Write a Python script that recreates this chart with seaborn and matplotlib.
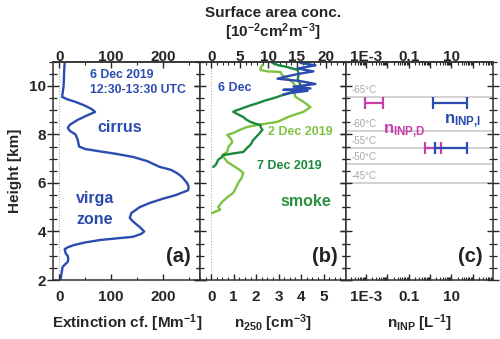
import numpy as np
import pandas as pd
import matplotlib
matplotlib.use("Agg")
import matplotlib.pyplot as plt
import matplotlib.ticker as mticker
import seaborn as sns

W, H = 500, 339

# ---- data ----
# (a) extinction coefficient profile, 6 Dec 2019
ext_height = [11.0, 10.6, 10.0, 9.7, 9.55, 9.45, 9.35, 9.2, 9.05, 8.93, 8.8, 8.6, 8.4,
              8.27, 8.15, 8.0, 7.8, 7.5, 7.4, 7.3, 7.2, 7.07, 6.9, 6.67, 6.54, 6.4,
              6.25, 6.0, 5.85, 5.7, 5.5, 5.35, 5.17, 5.0, 4.76, 4.56, 4.4, 4.19, 4.0,
              3.9, 3.78, 3.65, 3.55, 3.44, 3.35, 3.27, 3.1, 2.99, 2.85, 2.75, 2.54,
              2.28, 2.0]
ext_value = [10, 9, 8, 6, 5, 15, 30, 48, 62, 69, 55, 35, 20,
             16, 20, 31, 35, 38, 50, 79, 110, 143, 170, 193, 216, 228,
             237, 247, 250, 249, 225, 200, 174, 155, 139, 136, 143, 155, 164,
             158, 142, 79, 50, 28, 16, 10, 12, 16, 17, 16, 6,
             4, 2]

# (b) n250 profiles
dec2_height = [10.87, 10.75, 10.66, 10.6, 10.58, 10.45, 10.37, 10.17, 10.05, 9.9, 9.7,
               9.55, 9.35, 9.13, 8.93, 8.75, 8.52, 8.39, 8.31, 8.2, 8.06, 7.98, 7.85,
               7.69, 7.48, 7.28, 7.15, 6.87, 6.7, 6.55, 6.41, 6.2, 6.0, 5.8, 5.59,
               5.4, 5.22, 5.01, 4.9, 4.76]
dec2_n250 = [2.28, 2.2, 2.19, 2.5, 3.08, 3.15, 3.3, 3.6, 3.7, 3.84, 3.7,
             3.75, 4.1, 4.42, 4.1, 3.5, 2.95, 2.05, 1.6, 1.3, 0.98, 0.71, 0.85,
             0.94, 0.76, 0.71, 0.49, 0.71, 1.0, 1.25, 1.43, 1.35, 1.2, 1.1, 0.98,
             0.7, 0.49, 0.31, 0.4, 0.04]

dec7_height = [10.95, 10.85, 10.8, 10.66, 10.5, 10.3, 10.1, 9.92, 9.8, 9.75, 9.68, 9.6,
               9.55, 9.45, 9.4, 9.3, 9.2, 9.12, 9.05, 8.97, 8.93, 8.85, 8.8, 8.72,
               8.62, 8.52, 8.45, 8.39, 8.3, 8.19, 8.05, 7.95, 7.85, 7.75, 7.65, 7.57,
               7.45, 7.35, 7.28, 7.22, 7.15, 7.05, 6.95, 6.87, 6.75, 6.66]
dec7_n250 = [2.72, 3.0, 3.3, 3.84, 3.9, 3.85, 3.95, 3.97, 3.7, 3.6, 3.4, 3.1,
             2.95, 2.6, 2.4, 2.1, 1.75, 1.5, 1.3, 1.05, 0.98, 1.15, 1.25, 1.43,
             1.55, 1.74, 1.95, 2.19, 2.2, 2.28, 2.15, 2.05, 1.95, 1.85, 1.8, 1.74,
             1.6, 1.5, 1.43, 1.0, 0.54, 0.45, 0.3, 0.27, 0.2, 0.09]

dec6_height = [10.95, 10.85, 10.72, 10.6, 10.5, 10.4, 10.3, 10.2, 10.08, 9.97, 9.9,
               9.84, 9.8, 9.71, 9.65]
dec6_n250 = [3.97, 4.64, 3.84, 4.55, 3.9, 3.39, 2.95, 3.97, 4.64, 3.66, 4.42,
             3.21, 4.29, 3.53, 3.2]

SA_PER_N250 = 3.93  # top axis scale, surface area vs n250

# (c) INP concentration ranges
temp_heights = [9.55, 8.14, 7.44, 6.78, 6.0]
temp_labels = ["-65°C", "-60°C", "-55°C", "-50°C", "-45°C"]
inp_height = [9.30, 7.46]
inp_d_low = [8.9e-4, 0.6]
inp_d_high = [6.3e-3, 3.4]
inp_i_low = [1.4, 1.8]
inp_i_high = [56, 56]

BLUE = "#2b4bb0"
DGREEN = "#1a8a3a"
LGREEN = "#7dc242"
MAGENTA = "#c63fa8"
SMOKE = "#2b9040"
GRAY_LINE = "#cfcfcf"
GRAY_TXT = "#a8a8a8"

sns.set_theme(style="ticks")
plt.rcParams["font.family"] = ["Liberation Sans", "DejaVu Sans"]
plt.rcParams["font.weight"] = "bold"
plt.rcParams["axes.labelweight"] = "bold"
plt.rcParams["mathtext.fontset"] = "custom"
plt.rcParams["mathtext.rm"] = "Liberation Sans:bold"
plt.rcParams["mathtext.it"] = "Liberation Sans:bold"
plt.rcParams["mathtext.bf"] = "Liberation Sans:bold"
plt.rcParams["axes.linewidth"] = 1.1
plt.rcParams["axes.edgecolor"] = "#333333"

fig = plt.figure(figsize=(W / 100, H / 100), dpi=100)


def px_axes(x0, x1, y0=61.7, y1=280):
    return fig.add_axes([x0 / W, 1 - y1 / H, (x1 - x0) / W, (y1 - y0) / H])


ax_a = px_axes(53.3, 200)
ax_b = px_axes(200, 346)
ax_c = px_axes(346, 492.7)

df_ext = pd.DataFrame({"height": ext_height, "ext": ext_value})
sns.lineplot(data=df_ext, x="ext", y="height", sort=False, estimator=None,
             color=BLUE, lw=1.7, ax=ax_a)
ax_a.axvline(0, color="#b0b0b0", ls=":", lw=0.8, zorder=0)
ax_a.set_xlim(-12, 272)

for hh, nn, col in [(dec2_height, dec2_n250, LGREEN),
                    (dec7_height, dec7_n250, DGREEN),
                    (dec6_height, dec6_n250, BLUE)]:
    d = pd.DataFrame({"height": hh, "n250": nn})
    sns.lineplot(data=d, x="n250", y="height", sort=False, estimator=None,
                 color=col, lw=1.7, ax=ax_b)
ax_b.axvline(0, color="#b0b0b0", ls=":", lw=0.8, zorder=0)
ax_b.set_xlim(-0.5, 6.0)

ax_c.set_xscale("log")
ax_c.set_xlim(1.15e-4, 870)
for th in temp_heights:
    ax_c.axhline(th, color=GRAY_LINE, lw=1.3, zorder=0)
for i in range(len(inp_height)):
    for lo, hi, col in [(inp_d_low[i], inp_d_high[i], MAGENTA),
                        (inp_i_low[i], inp_i_high[i], BLUE)]:
        c = np.sqrt(lo * hi)
        ax_c.errorbar([c], [inp_height[i]], xerr=[[c - lo], [hi - c]], fmt="none",
                      ecolor=col, elinewidth=1.6, capsize=4.5, capthick=1.6)

for ax in (ax_a, ax_b, ax_c):
    ax.set_ylim(2, 11)
    ax.set_xlabel("")
    ax.set_ylabel("")
    ax.yaxis.set_major_locator(mticker.MultipleLocator(2))
    ax.yaxis.set_minor_locator(mticker.MultipleLocator(0.5))
    ax.tick_params(axis="y", which="major", direction="inout", length=8, width=1,
                   left=True, right=True, labelleft=False, pad=1, labelsize=11)
    ax.tick_params(axis="y", which="minor", direction="inout", length=6, width=0.9,
                   left=True, right=True)
    ax.tick_params(axis="x", which="major", direction="in", length=4, width=1,
                   labelsize=11, pad=7, top=False)
    ax.tick_params(axis="x", which="minor", direction="in", length=2.5, width=0.8,
                   top=False)
    for s in ax.spines.values():
        s.set_visible(True)
ax_a.tick_params(axis="y", which="major", labelleft=True)
ax_a.set_ylabel("Height [km]", fontsize=11, labelpad=5)


def top_axis(ax, functions, major, minor, formatter=None):
    sec = ax.secondary_xaxis("top", functions=functions)
    sec.xaxis.set_major_locator(major)
    sec.xaxis.set_minor_locator(minor)
    if formatter is not None:
        sec.xaxis.set_major_formatter(formatter)
        sec.xaxis.set_minor_formatter(mticker.NullFormatter())
    sec.tick_params(axis="x", which="major", direction="in", length=4, width=1,
                    labelsize=11, pad=-1.5)
    sec.tick_params(axis="x", which="minor", direction="in", length=2.5, width=0.8)
    return sec


ident = (lambda x: x, lambda x: x)

# panel (a)
ax_a.xaxis.set_major_locator(mticker.FixedLocator([0, 100, 200]))
ax_a.xaxis.set_minor_locator(mticker.MultipleLocator(50))
ax_a.set_xlabel("Extinction cf. [Mm$^{-1}$]", fontsize=11, labelpad=6)
top_axis(ax_a, ident, mticker.FixedLocator([0, 100, 200]), mticker.MultipleLocator(50))

# panel (b)
ax_b.xaxis.set_major_locator(mticker.FixedLocator([0, 1, 2, 3, 4, 5]))
ax_b.xaxis.set_minor_locator(mticker.MultipleLocator(0.25))
ax_b.set_xlabel("n$_{250}$ [cm$^{-3}$]", fontsize=11, labelpad=6)
sec = top_axis(ax_b, (lambda x: x * SA_PER_N250, lambda x: x / SA_PER_N250),
               mticker.FixedLocator([0, 5, 10, 15, 20]), mticker.MultipleLocator(1))

# panel (c)
c_labels = {-3: "1E-3", -1: "0.1", 1: "10"}
c_fmt = mticker.FuncFormatter(lambda v, p: c_labels.get(int(round(np.log10(v))), ""))
ax_c.xaxis.set_major_locator(mticker.LogLocator(base=10, numticks=20))
ax_c.xaxis.set_minor_locator(mticker.LogLocator(base=10, subs=np.arange(2, 10), numticks=20))
ax_c.xaxis.set_minor_formatter(mticker.NullFormatter())
ax_c.xaxis.set_major_formatter(c_fmt)
ax_c.set_xlabel("n$_{INP}$ [L$^{-1}$]", fontsize=11, labelpad=6)
sec_c = top_axis(ax_c, ident, mticker.LogLocator(base=10, numticks=20),
                 mticker.LogLocator(base=10, subs=np.arange(2, 10), numticks=20),
                 formatter=c_fmt)
sec_c.set_xscale("log")
sec_c.xaxis.set_major_locator(mticker.LogLocator(base=10, numticks=20))
sec_c.xaxis.set_minor_locator(mticker.LogLocator(base=10, subs=np.arange(2, 10), numticks=20))
sec_c.xaxis.set_major_formatter(c_fmt)
sec_c.xaxis.set_minor_formatter(mticker.NullFormatter())


def ftext(px, py, s, ha="left", **kw):
    fig.text(px / W, 1 - py / H, s, va="center", ha=ha, **kw)


# top label of panel (b), two lines
ftext(273, 13, "Surface area conc.", ha="center", fontsize=11)
ftext(273, 32, "[10$^{-2}$cm$^{2}$m$^{-3}$]", ha="center", fontsize=11)

ftext(90, 75, "6 Dec 2019", color=BLUE, fontsize=8.8)
ftext(90, 90, "12:30-13:30 UTC", color=BLUE, fontsize=8.8)
ftext(97, 128, "cirrus", color=BLUE, fontsize=11.5)
ftext(76, 199, "virga", color=BLUE, fontsize=11.5)
ftext(76, 220, "zone", color=BLUE, fontsize=11.5)
ftext(218, 88, "6 Dec", color=BLUE, fontsize=9)
ftext(268, 132, "2 Dec 2019", color=LGREEN, fontsize=9)
ftext(257, 166, "7 Dec 2019", color=DGREEN, fontsize=9)
ftext(280, 201, "smoke", color=SMOKE, fontsize=11.5)
for px, lab in [(166, "(a)"), (312, "(b)"), (458, "(c)")]:
    ftext(px, 257, lab, color="#222222", fontsize=14.5)
for th, tl in zip(temp_heights, temp_labels):
    ax_c.annotate(tl, xy=(0, th), xycoords=("axes fraction", "data"),
                  xytext=(4, 5), textcoords="offset points", ha="left", va="center",
                  color=GRAY_TXT, fontsize=7, fontweight="normal")
ftext(383, 131, "n$_{\\mathregular{INP{,}D}}$", color=MAGENTA, fontsize=12)
ftext(444, 121, "n$_{\\mathregular{INP{,}I}}$", color=BLUE, fontsize=12)

fig.savefig("out.png", dpi=100)
